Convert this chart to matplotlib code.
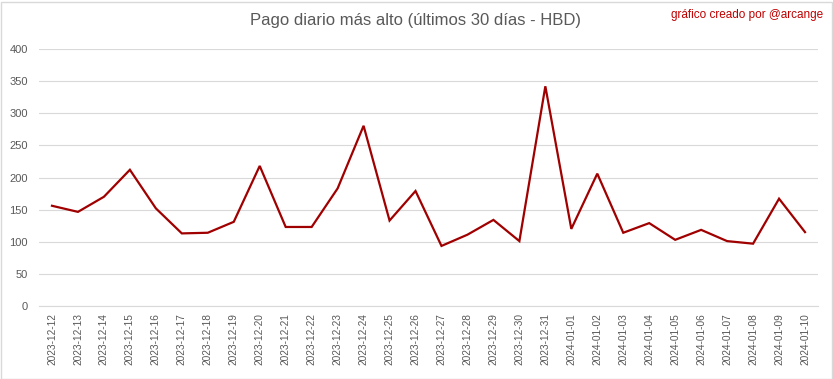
import matplotlib.pyplot as plt
from matplotlib.patches import Rectangle

dates = [
    '2023-12-12', '2023-12-13', '2023-12-14', '2023-12-15', '2023-12-16',
    '2023-12-17', '2023-12-18', '2023-12-19', '2023-12-20', '2023-12-21',
    '2023-12-22', '2023-12-23', '2023-12-24', '2023-12-25', '2023-12-26',
    '2023-12-27', '2023-12-28', '2023-12-29', '2023-12-30', '2023-12-31',
    '2024-01-01', '2024-01-02', '2024-01-03', '2024-01-04', '2024-01-05',
    '2024-01-06', '2024-01-07', '2024-01-08', '2024-01-09', '2024-01-10',
]
payouts = [
    156, 146.5, 170, 212, 152, 113, 114, 131, 218, 123,
    123, 183, 280.5, 133, 179, 93.5, 111, 134, 101, 342,
    120, 206, 114, 129, 103, 118.5, 101, 97, 167, 115,
]
yticks = [0, 50, 100, 150, 200, 250, 300, 350, 400]

text_grey = '#595959'
grid_grey = '#D9D9D9'

plt.rcParams['font.family'] = ['Liberation Sans', 'DejaVu Sans']

fig = plt.figure(figsize=(8.33, 3.79), dpi=100)
ax = fig.add_axes([39 / 833, 73 / 379, 779 / 833, 257 / 379])

xs = list(range(len(dates)))
ax.plot(xs, payouts, color='#A00000', linewidth=1.6, solid_joinstyle='miter')

ax.set_xlim(-0.5, len(dates) - 0.5)
ax.set_ylim(0, 400)
ax.set_yticks(yticks)
ax.set_xticks(xs)
ax.set_xticklabels(dates, rotation=90)
ax.tick_params(axis='x', length=0, pad=5, labelsize=7.3, labelcolor=text_grey)
ax.tick_params(axis='y', length=0, pad=8, labelsize=8, labelcolor=text_grey)

ax.grid(axis='y', color=grid_grey, linewidth=0.8)
ax.set_axisbelow(True)
for side in ['top', 'right', 'left']:
    ax.spines[side].set_visible(False)
ax.spines['bottom'].set_color(grid_grey)
ax.spines['bottom'].set_linewidth(0.8)

fig.text(416 / 833, 1 - 20 / 379, 'Pago diario más alto (últimos 30 días - HBD)',
         ha='center', va='center', fontsize=12, color=text_grey)
fig.text(823 / 833, 1 - 15 / 379, 'gráfico creado por @arcange',
         ha='right', va='center', fontsize=8.5, color='#C00000')

fig.patches.append(Rectangle((0.5 / 833, 0.5 / 379), 831 / 833, 377 / 379,
                             transform=fig.transFigure, fill=False,
                             edgecolor=grid_grey, linewidth=1))

fig.savefig('out.png', dpi=100)
